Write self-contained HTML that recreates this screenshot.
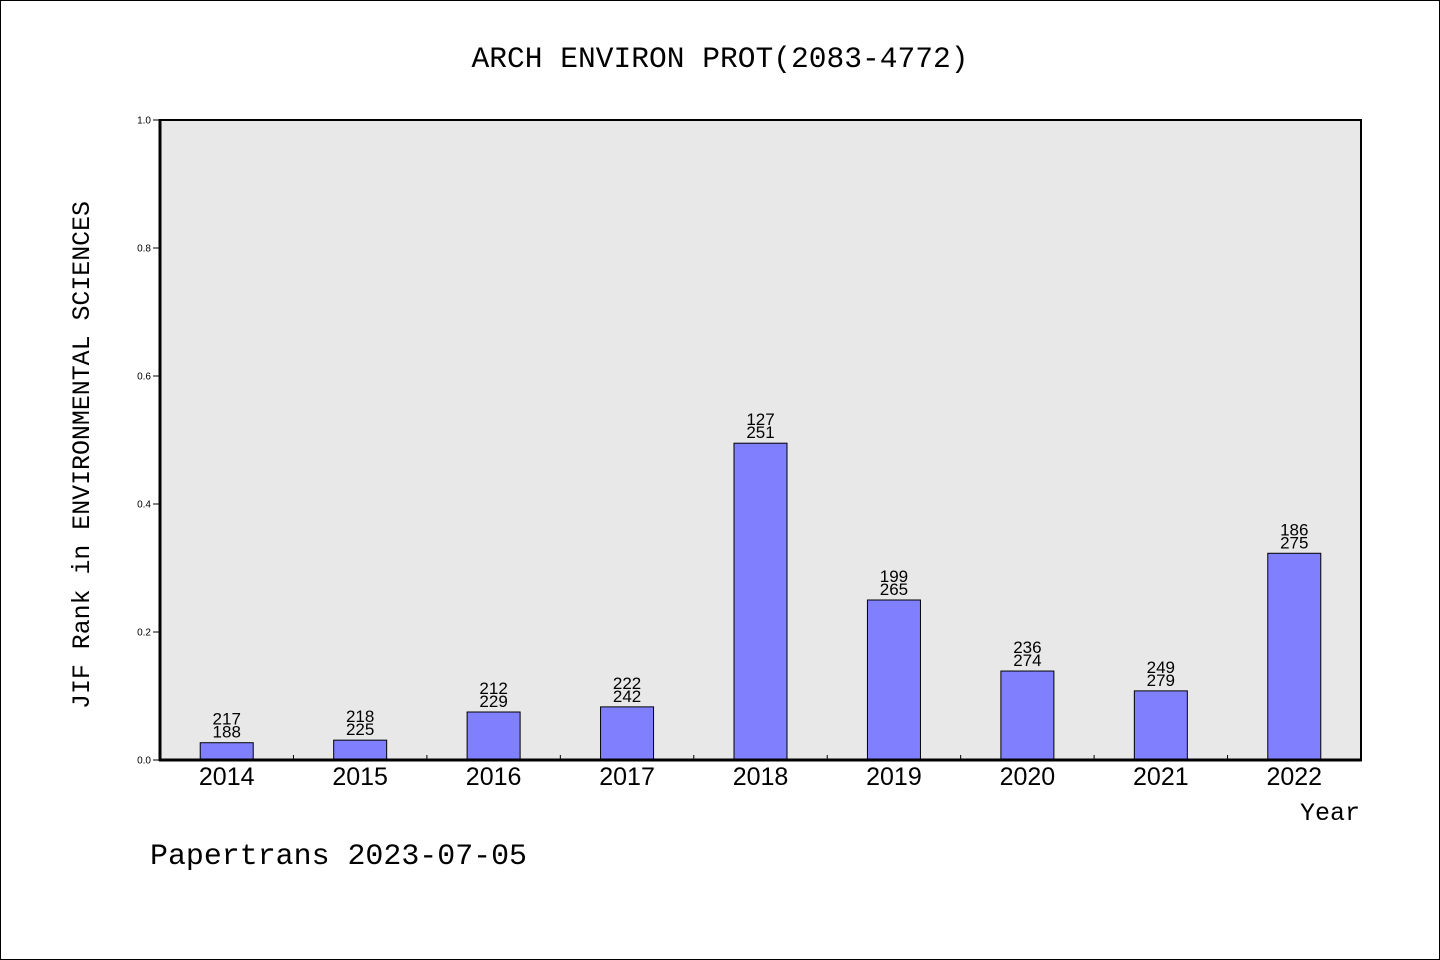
<!DOCTYPE html>
<html><head><meta charset="utf-8"><style>
html,body{margin:0;padding:0;background:#fff;}
svg{display:block;}
text{font-family:"Liberation Mono","WenQuanYi Zen Hei",monospace;fill:#000;}
.sm{font-family:"Liberation Sans",sans-serif;}
</style></head><body>
<svg id="chart" width="1440" height="960" viewBox="0 0 1440 960" xmlns="http://www.w3.org/2000/svg">
<rect x="0.5" y="0.5" width="1439" height="959" fill="#fff" stroke="#000"/>
<text x="720" y="67" text-anchor="middle" font-size="30" textLength="497" lengthAdjust="spacingAndGlyphs">ARCH ENVIRON PROT(2083-4772)</text>
<rect x="160" y="120" width="1201" height="640" fill="#e8e8e8" stroke="#000" stroke-width="2"/>
<g id="bars"></g>
<line x1="159" y1="760" x2="1362" y2="760" stroke="#000" stroke-width="3"/>
<line x1="160" y1="119" x2="160" y2="761" stroke="#000" stroke-width="3"/>
<g id="axes"></g>
<text transform="translate(89,455) rotate(-90)" text-anchor="middle" font-size="25" textLength="508" lengthAdjust="spacingAndGlyphs">JIF Rank in ENVIRONMENTAL SCIENCES</text>
<text x="1360" y="820" text-anchor="end" font-size="25">Year</text>
<text x="150" y="864" font-size="30" textLength="377" lengthAdjust="spacingAndGlyphs">Papertrans 2023-07-05</text>
</svg>
<script>
const years = ["2014","2015","2016","2017","2018","2019","2020","2021","2022"];
const values = [0.027,0.031,0.075,0.083,0.495,0.25,0.139,0.108,0.323];
const rankLabels = ["217","218","212","222","127","199","236","249","186"];
const totalLabels = ["188","225","229","242","251","265","274","279","275"];
const yTicks = [0,0.2,0.4,0.6,0.8,1.0];
const yTickLabels = ["0.0","0.2","0.4","0.6","0.8","1.0"];

const NS="http://www.w3.org/2000/svg";
const X0=160,X1=1361,Y0=760,Y1=120;
const step=(X1-X0)/years.length;
function xc(i){return X0+step*(i+0.5);}
function y(v){return Y0-(Y0-Y1)*v;}
function mk(tag,attrs,parent,txt){const e=document.createElementNS(NS,tag);for(const k in attrs)e.setAttribute(k,attrs[k]);if(txt!==undefined)e.textContent=txt;parent.appendChild(e);return e;}
const bars=document.getElementById('bars'),axes=document.getElementById('axes');
years.forEach((yr,i)=>{
  const cx=xc(i),top=y(values[i]);
  const r=mk('rect',{x:cx-26.5,y:top,width:53,height:Y0-top,fill:'#8080ff',stroke:'#000','stroke-width':1},bars);
  
  
  const t1=mk('text',{x:cx,y:top-18,'text-anchor':'middle','font-size':17,class:'sm'},bars,rankLabels[i]);
  
  
  const t2=mk('text',{x:cx,y:top-5,'text-anchor':'middle','font-size':17,class:'sm'},bars,totalLabels[i]);
  
  
  const xl=mk('text',{x:cx,y:785,'text-anchor':'middle','font-size':25,class:'sm'},axes,yr);
  
  
  if(i>0){
    const tk=mk('line',{x1:X0+step*i,y1:Y0,x2:X0+step*i,y2:Y0-5,stroke:'#000','stroke-width':1},axes);
    
    
  }
});
yTicks.forEach((v,i)=>{
  const tk=mk('line',{x1:153,y1:y(v),x2:160,y2:y(v),stroke:'#000','stroke-width':1},axes);
  
  
  const tl=mk('text',{x:151,y:y(v)+3.5,'text-anchor':'end','font-size':10,class:'sm'},axes,yTickLabels[i]);
  
  
});
</script>
</body></html>
